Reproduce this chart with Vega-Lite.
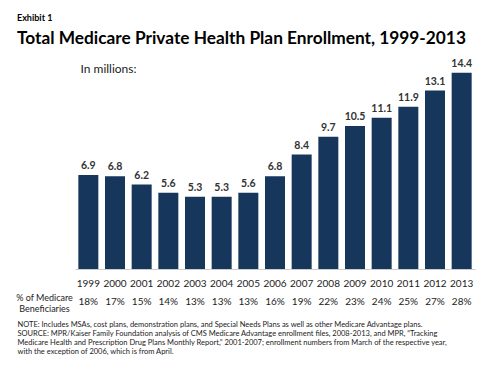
{
  "$schema": "https://vega.github.io/schema/vega-lite/v6.json",
  "width": 400,
  "height": 218,
  "autosize": "none",
  "padding": {"left": 75, "top": 51, "right": 25, "bottom": 105},
  "background": "white",
  "config": {"view": {"stroke": null}, "font": "Lato"},
  "title": {
    "text": "Exhibit 1",
    "subtitle": "Total Medicare Private Health Plan Enrollment, 1999-2013",
    "anchor": "start",
    "frame": "group",
    "dx": -58,
    "fontSize": 9,
    "fontWeight": "bold",
    "color": "#000",
    "subtitleFontSize": 17.3,
    "subtitleFontWeight": "bold",
    "subtitleColor": "#000",
    "subtitlePadding": 7,
    "offset": 4
  },
  "data": {
    "values": [
      {"year": "1999", "enrollment": 6.9, "share": "18%"},
      {"year": "2000", "enrollment": 6.8, "share": "17%"},
      {"year": "2001", "enrollment": 6.2, "share": "15%"},
      {"year": "2002", "enrollment": 5.6, "share": "14%"},
      {"year": "2003", "enrollment": 5.3, "share": "13%"},
      {"year": "2004", "enrollment": 5.3, "share": "13%"},
      {"year": "2005", "enrollment": 5.6, "share": "13%"},
      {"year": "2006", "enrollment": 6.8, "share": "16%"},
      {"year": "2007", "enrollment": 8.4, "share": "19%"},
      {"year": "2008", "enrollment": 9.7, "share": "22%"},
      {"year": "2009", "enrollment": 10.5, "share": "23%"},
      {"year": "2010", "enrollment": 11.1, "share": "24%"},
      {"year": "2011", "enrollment": 11.9, "share": "25%"},
      {"year": "2012", "enrollment": 13.1, "share": "27%"},
      {"year": "2013", "enrollment": 14.4, "share": "28%"}
    ]
  },
  "encoding": {
    "x": {
      "field": "year",
      "type": "ordinal",
      "scale": {"paddingInner": 0.25, "paddingOuter": 0.125},
      "axis": {
        "labelAngle": 0,
        "labelFontSize": 10,
        "labelColor": "#222",
        "labelPadding": 9,
        "ticks": false,
        "domainColor": "#cccccc",
        "title": [
          "NOTE:  Includes MSAs, cost plans, demonstration plans, and Special Needs Plans as well as other Medicare Advantage plans.",
          "SOURCE:  MPR/Kaiser Family Foundation analysis of CMS Medicare Advantage enrollment files, 2008-2013, and MPR, \u201cTracking",
          "Medicare Health and Prescription Drug Plans Monthly Report,\u201d 2001-2007; enrollment numbers from March of the respective year,",
          "with the exception of 2006, which is from April."
        ],
        "titleFontSize": 7.5,
        "titleFontWeight": "normal",
        "titleColor": "#222",
        "titleAnchor": "start",
        "titleAlign": "left",
        "titleBaseline": "top",
        "titleLineHeight": 9.3,
        "titleX": -58,
        "titleY": 51
      }
    }
  },
  "layer": [
    {
      "mark": {"type": "bar", "color": "#16365c"},
      "encoding": {
        "y": {
          "field": "enrollment",
          "type": "quantitative",
          "scale": {"domain": [0, 16], "nice": false},
          "axis": {
            "orient": "left",
            "labels": false,
            "ticks": false,
            "domain": false,
            "grid": false,
            "title": "In millions:",
            "titleAngle": 0,
            "titleFontSize": 12,
            "titleFontWeight": "normal",
            "titleColor": "#222",
            "titleAlign": "center",
            "titleBaseline": "middle",
            "titleX": 33,
            "titleY": 17
          }
        }
      }
    },
    {
      "mark": {"type": "text", "dy": -9, "fontSize": 10.5, "fontWeight": "bold", "color": "#333"},
      "encoding": {
        "y": {"field": "enrollment", "type": "quantitative", "axis": null},
        "text": {"field": "enrollment", "type": "quantitative", "format": ".1f"}
      }
    },
    {
      "mark": {"type": "text", "yOffset": 33, "fontSize": 10, "color": "#222"},
      "encoding": {
        "y": {
          "datum": 0,
          "type": "quantitative",
          "axis": {
            "orient": "right",
            "labels": false,
            "ticks": false,
            "domain": false,
            "grid": false,
            "title": ["% of Medicare", "Beneficiaries"],
            "titleAngle": 0,
            "titleFontSize": 9,
            "titleFontWeight": "normal",
            "titleColor": "#222",
            "titleAlign": "center",
            "titleBaseline": "middle",
            "titleLineHeight": 11.5,
            "titleX": -431,
            "titleY": 246
          }
        },
        "text": {"field": "share", "type": "nominal"}
      }
    }
  ],
  "resolve": {"axis": {"y": "independent"}}
}
